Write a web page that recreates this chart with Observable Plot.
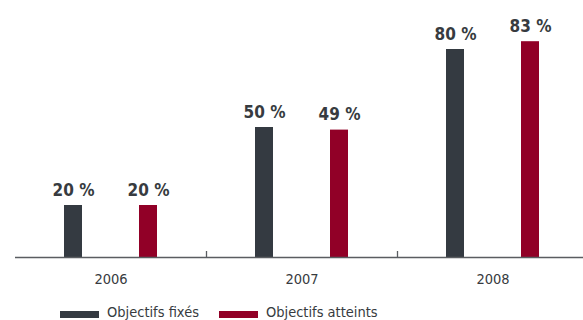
<!DOCTYPE html>
<html lang="fr">
<head>
<meta charset="utf-8">
<script src="https://cdn.jsdelivr.net/npm/d3@7"></script>
<script src="https://cdn.jsdelivr.net/npm/@observablehq/plot@0.6"></script>
<style>
  html, body { margin: 0; padding: 0; background: #fff; }
  #chart { position: relative; width: 583px; height: 320px; overflow: hidden; }
  .legend {
    position: absolute; left: 60px; top: 304px;
    display: flex; align-items: center; gap: 0;
    font-family: "DejaVu Sans Condensed", "DejaVu Sans", sans-serif;
    font-stretch: condensed; font-size: 14.5px; color: #373b40; line-height: 16px;
  }
  .legend .item { display: flex; align-items: center; margin-right: 20px; }
  .legend .swatch { width: 39px; height: 7px; margin-right: 8px; margin-top: 4px; }
</style>
</head>
<body>
<div id="chart"></div>
<script>
// Objectifs fixés vs. objectifs atteints, par année (en %)
const years = ["2006", "2007", "2008"];
const series = ["Objectifs fixés", "Objectifs atteints"];
const fixes = [20, 50, 80];
const atteints = [20, 49, 83];
const colors = ["#343a41", "#910027"];

const textColor = "#373b40";
const axisColor = "#5a5d61";
const font = "'DejaVu Sans Condensed', 'DejaVu Sans', sans-serif";

const rows = years.flatMap((year, i) => [
  {year, serie: series[0], value: fixes[i]},
  {year, serie: series[1], value: atteints[i]}
]);

// Small upward ticks at the boundaries between years
const separators = years.slice(1);
const tickLength = 6;

const plot = Plot.plot({
  width: 583,
  height: 295,
  marginLeft: 14,
  marginRight: 0,
  marginTop: 0,
  marginBottom: 38,
  style: {fontFamily: font, color: textColor, overflow: "visible"},
  fx: {domain: years, range: [14, 589], padding: 0, label: null},
  x: {domain: series, paddingInner: 0.763, paddingOuter: 0.645, axis: null},
  y: {domain: [0, 100], range: [257, -3], axis: null},
  color: {domain: series, range: colors},
  marks: [
    Plot.barY(rows, {fx: "year", x: "serie", y: "value", fill: "serie"}),
    Plot.text(rows, {
      fx: "year", x: "serie", y: "value",
      text: d => `${d.value} %`,
      lineAnchor: "bottom", dy: -10,
      fill: textColor, fontSize: 17, fontWeight: "bold"
    }),
    Plot.ruleY([0], {stroke: axisColor, strokeWidth: 1.3}),
    Plot.ruleX(separators, {
      fx: d => d, x: null,
      stroke: axisColor, strokeWidth: 1.3,
      render(index, scales, values, dimensions, context, next) {
        const g = next(index, scales, values, dimensions, context);
        const y0 = scales.y(0);
        d3.select(g).selectAll("line")
          .attr("x1", dimensions.marginLeft).attr("x2", dimensions.marginLeft)
          .attr("y1", y0 - tickLength).attr("y2", y0);
        return g;
      }
    }),
    Plot.axisFx({anchor: "bottom", tickSize: 0, tickPadding: 16, fontSize: 14.5, fill: textColor, label: null})
  ]
});

const chart = document.getElementById("chart");
chart.appendChild(plot);

const legend = document.createElement("div");
legend.className = "legend";
series.forEach((name, i) => {
  const item = document.createElement("div");
  item.className = "item";
  const sw = document.createElement("span");
  sw.className = "swatch";
  sw.style.background = colors[i];
  const label = document.createElement("span");
  label.textContent = name;
  item.append(sw, label);
  legend.appendChild(item);
});
chart.appendChild(legend);
</script>
</body>
</html>
